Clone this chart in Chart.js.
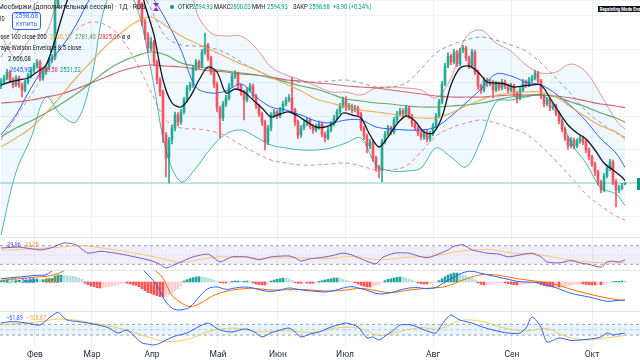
<!DOCTYPE html>
<html lang="ru"><head><meta charset="utf-8">
<script src="https://cdn.jsdelivr.net/npm/chart.js@4.4.1/dist/chart.umd.min.js"></script>
<style>
html,body{margin:0;padding:0;background:#fff}
#wrap{position:relative;width:640px;height:360px;overflow:hidden;background:#fff;font-family:Roboto,"Noto Sans",Arial,sans-serif}
#wrap canvas{position:absolute;left:0}
.t{position:absolute;white-space:nowrap;transform-origin:left center}
.sep{position:absolute;left:0;width:640px;height:1px;background:#e0e3eb}
</style></head><body>
<div id="wrap">
 <canvas id="cMain" width="640" height="237" style="top:0px"></canvas>
 <canvas id="cRsi" width="640" height="33" style="top:237px"></canvas>
 <canvas id="cMacd" width="640" height="41" style="top:270px"></canvas>
 <canvas id="cCci" width="640" height="49" style="top:311px"></canvas>
 <div class="sep" style="top:237px"></div>
 <div class="sep" style="top:270px"></div>
 <div class="sep" style="top:311px"></div>
</div>
<script>
// ---------------- DATA ----------------
const monthNames = ['Фев','Мар','Апр','Май','Июн','Июл','Авг','Сен','Окт'];
const monthIdx = [11.33, 30.33, 50.33, 72.33, 92.33, 114.67, 144, 170.33, 197];

const open = [2890,2902,2914,2932,2908,2893,2914,2893,2878,2902,
2920,2938,2950,2962,2914,2932,2944,2968,2974,3133,
3223,3253,3232,3283,3313,3298,3334,3322,3358,3343,
3313,3292,3304,3268,3283,3313,3328,3304,3292,3313,
3274,3262,3283,3253,3238,3223,3193,3133,3082,3043,
3004,3022,2962,2908,2872,2743,2674,2728,2764,2803,
2782,2812,2848,2884,2893,2944,2962,2950,2992,3013,
2974,2932,2896,2824,2794,2836,2854,2890,2920,2926,
2890,2872,2848,2878,2890,2860,2830,2806,2782,2722,
2764,2803,2812,2800,2818,2836,2848,2854,2818,2782,
2743,2764,2776,2788,2770,2758,2767,2776,2746,2734,
2758,2776,2794,2812,2830,2848,2824,2830,2818,2824,
2806,2764,2740,2710,2722,2674,2644,2638,2722,2746,
2764,2752,2788,2806,2815,2806,2824,2800,2776,2764,
2749,2737,2752,2731,2746,2770,2800,2842,2896,2950,
2980,2962,2992,2956,2998,3004,2974,2950,2992,2932,
2890,2878,2908,2896,2902,2878,2896,2884,2902,2890,
2878,2890,2869,2854,2878,2902,2893,2908,2914,2929,
2905,2860,2836,2848,2824,2830,2809,2785,2761,2734,
2710,2728,2710,2725,2734,2722,2698,2677,2656,2632,
2602,2578,2620,2644,2662,2602,2578,2584,2594.93];
const close = [2902,2914,2932,2908,2893,2914,2893,2878,2902,2920,
2938,2950,2962,2914,2932,2944,2968,2974,3133,3223,
3253,3232,3283,3313,3298,3334,3322,3358,3343,3313,
3292,3304,3268,3283,3313,3328,3304,3292,3313,3274,
3262,3283,3253,3238,3223,3193,3133,3082,3043,3004,
3022,2962,2908,2872,2743,2674,2728,2764,2803,2782,
2812,2848,2884,2893,2944,2962,2950,2992,3013,2974,
2932,2896,2824,2794,2836,2854,2890,2920,2926,2890,
2872,2848,2878,2890,2860,2830,2806,2782,2722,2764,
2803,2812,2800,2818,2836,2848,2854,2818,2782,2743,
2764,2776,2788,2770,2758,2767,2776,2746,2734,2758,
2776,2794,2812,2830,2848,2824,2830,2818,2824,2806,
2764,2740,2710,2722,2674,2644,2638,2722,2746,2764,
2752,2788,2806,2815,2806,2824,2800,2776,2764,2749,
2737,2752,2731,2746,2770,2800,2842,2896,2950,2980,
2962,2992,2956,2998,3004,2974,2950,2992,2932,2890,
2878,2908,2896,2902,2878,2896,2884,2902,2890,2878,
2890,2869,2854,2878,2902,2893,2908,2914,2929,2905,
2860,2836,2848,2824,2830,2809,2785,2761,2734,2710,
2728,2710,2725,2734,2722,2698,2677,2656,2632,2602,
2578,2620,2644,2662,2602,2578,2584,2589.78,2598.68];
const high = [2912,2922,2940,2938,2915,2921,2920,2899,2908,2928,
2946,2958,2970,2968,2940,2953,2975,2984,3160,3240,
3270,3262,3295,3325,3320,3345,3340,3370,3366,3350,
3320,3312,3310,3292,3320,3338,3334,3310,3320,3318,
3280,3290,3288,3260,3245,3230,3198,3140,3090,3050,
3035,3028,2968,2915,2878,2750,2736,2772,2812,2810,
2820,2856,2892,2902,2952,2970,2968,3000,3049,3018,
2980,2938,2902,2830,2844,2862,2898,2928,2936,2932,
2896,2878,2886,2898,2896,2866,2836,2812,2788,2772,
2810,2820,2818,2826,2844,2856,2864,2917,2824,2788,
2772,2784,2796,2794,2776,2776,2785,2782,2752,2766,
2784,2802,2820,2838,2857,2858,2838,2836,2832,2830,
2812,2770,2746,2730,2728,2680,2652,2730,2754,2772,
2770,2796,2814,2824,2822,2832,2830,2806,2782,2770,
2755,2760,2758,2754,2778,2808,2850,2904,2958,2990,
2986,3000,2998,3004,3012,3010,2980,3000,2998,2938,
2896,2916,2914,2910,2908,2904,2902,2910,2908,2896,
2898,2896,2874,2886,2910,2908,2916,2922,2938,2934,
2910,2866,2856,2854,2838,2836,2814,2790,2766,2740,
2736,2734,2732,2742,2740,2728,2704,2682,2662,2638,
2608,2628,2652,2670,2668,2610,2592,2598,2600.03];
const low = [2882,2896,2908,2900,2884,2888,2886,2857,2872,2896,
2914,2931,2944,2906,2907,2925,2938,2960,2968,3125,
3210,3220,3228,3275,3288,3290,3310,3315,3333,3305,
3282,3285,3258,3260,3278,3306,3296,3284,3286,3266,
3252,3255,3245,3228,3212,3180,3120,3070,3030,2992,
2996,2950,2896,2860,2720,2617,2599,2716,2755,2770,
2775,2806,2842,2876,2886,2936,2942,2944,2985,2966,
2924,2886,2812,2734,2786,2828,2848,2884,2912,2882,
2862,2788,2842,2872,2852,2822,2798,2772,2698,2714,
2756,2796,2792,2794,2812,2830,2842,2810,2772,2732,
2736,2758,2770,2762,2748,2752,2760,2738,2722,2728,
2752,2770,2788,2806,2824,2816,2818,2810,2812,2798,
2756,2730,2689,2702,2664,2634,2614,2602,2716,2740,
2744,2746,2780,2800,2798,2800,2792,2768,2756,2741,
2728,2730,2722,2724,2740,2764,2794,2836,2890,2944,
2954,2956,2948,2950,2990,2966,2942,2944,2924,2880,
2868,2872,2888,2890,2854,2872,2876,2878,2882,2870,
2872,2860,2839,2848,2872,2886,2888,2902,2908,2898,
2852,2828,2830,2816,2818,2800,2776,2752,2726,2700,
2704,2702,2704,2718,2714,2690,2668,2648,2622,2592,
2569,2572,2614,2636,2594,2527,2570,2578,2594.93];
const lastPrice = 2598.68;

// overlay samples (bar index -> value)
const bandIdx = [0,5,10,15,20,25,30,35,40,45,50,55,60,65,70,75,80,85,90,95,100,105,110,115,120,125,130,135,140,145,150,155,160,165,170,175,180,185,190,195,200,205,208];
const ma50 = [2707,2734,2764,2809,2860,2914,2962,3010,3049,3082,3097,3070,3040,3019,2998,2977,2956,2938,2917,2896,2875,2851,2839,2827,2818,2812,2806,2797,2794,2794,2809,2830,2848,2863,2869,2872,2872,2857,2827,2797,2770,2752,2730.15];
const ma100 = [2737,2764,2785,2809,2836,2866,2899,2935,2962,2980,2992,2983,2959,2950,2941,2935,2929,2923,2914,2902,2890,2881,2866,2851,2845,2839,2836,2830,2827,2827,2830,2833,2839,2848,2857,2860,2863,2857,2842,2827,2809,2794,2781.40];
const ma200 = [2839,2842,2848,2857,2866,2881,2899,2917,2935,2947,2953,2950,2947,2941,2935,2932,2926,2923,2917,2908,2905,2899,2896,2890,2887,2884,2878,2872,2866,2860,2857,2857,2857,2860,2863,2863,2863,2860,2854,2845,2836,2830,2825.06];
const bbBasis = [2743,2803,2884,2953,3004,3073,3157,3208,3238,3223,3163,3088,2998,2887,2869,2875,2896,2857,2827,2818,2803,2785,2779,2788,2788,2767,2761,2758,2758,2767,2800,2839,2881,2926,2920,2902,2893,2866,2830,2785,2731,2689,2645.90];
const bbUpper = [3043,2974,3034,3049,3205,3364,3406,3277,3298,3313,3388,3478,3394,3118,3049,3040,3040,3004,2947,2923,2908,2890,2872,2872,2863,2884,2887,2884,2878,2854,2914,3037,3058,3019,2995,2953,2929,2932,2956,2932,2863,2788,2760.58];
const bbLower = [2443,2632,2734,2857,2803,2782,2908,3139,3178,3133,2938,2698,2602,2644,2704,2746,2758,2737,2713,2704,2698,2698,2704,2719,2734,2653,2635,2635,2644,2704,2677,2647,2728,2842,2848,2857,2863,2824,2719,2659,2584,2566,2531.22];
const nwUpper = [2977,3046,3112,3181,3253,3307,3331,3322,3283,3211,3121,3037,3013,3010,3004,2989,2962,2938,2917,2908,2902,2902,2905,2908,2899,2887,2887,2899,2941,2989,3013,3028,3037,3028,3013,2995,2959,2914,2866,2815,2779,2749,2737];
const nwLower = [2728,2797,2863,2932,3004,3058,3082,3073,3034,2962,2872,2788,2764,2761,2755,2740,2713,2689,2668,2659,2653,2653,2656,2659,2650,2638,2638,2650,2692,2740,2764,2779,2788,2779,2764,2746,2710,2665,2617,2566,2530,2500,2488];

const emaIdx = [0,3,6,9,12,15,18,21,24,27,30,33,36,39,42,45,48,51,54,57,60,63,66,69,72,75,78,81,84,87,90,93,96,99,102,105,108,111,114,117,120,123,126,129,132,135,138,141,144,147,150,153,156,159,162,165,168,171,174,177,180,183,186,189,192,195,198,201,204,207,208];
const ema9 = [2893,2902,2908,2914,2932,2953,3028,3118,3193,3253,3283,3298,3313,3298,3283,3238,3133,3043,2908,2839,2827,2857,2908,2947,2932,2869,2881,2872,2848,2824,2797,2806,2812,2800,2782,2767,2767,2779,2809,2803,2794,2743,2707,2737,2776,2800,2785,2752,2749,2797,2893,2944,2950,2932,2902,2899,2896,2887,2890,2893,2893,2854,2812,2773,2749,2731,2698,2659,2638,2617,2606.08];

// RSI
const rsiIdx = [0,6,13,17,21,25,29,33,36,40,46,50,53,55,58,60,64,69,71,73,77,82,86,90,96,98,100,103,106,110,114,117,121,125,127,131,136,139,142,145,149,151,154,157,162,166,169,173,177,180,182,186,190,193,196,200,202,204,206,208];
const rsiVal = [65,67,61,66,76,72,54,58,56,52,44,38,30,22,30,35,46,52,44,35,46,46,40,46,48,44,37,42,44,48,54,50,39,31,44,54,54,48,44,50,61,69,72,61,54,52,46,50,54,46,35,33,38,33,30,24,35,37,35,39.86];
const rsiMaIdx = [0,9,18,27,36,45,54,60,66,72,81,90,99,108,117,126,135,144,153,162,171,180,189,198,208];
const rsiMaVal = [60,63,66,70,63,54,42,34,40,46,44,43,44,42,47,40,45,48,58,62,54,50,40,34,33.25];
const rsiLevels = [70,50,30];

// MACD
const macdHist = [4,5,6,5,4,4,5,4,5,6,
7,8,9,7,7,8,10,11,18,21,
21,20,19,18,17,15,12,8,-4,-8,
-12,-14,-17,-18,-17,-15,-14,-12,-10,-8,
-5,-3,-4,-6,-9,-10,-14,-20,-26,-32,
-34,-38,-41,-44,-45,-44,-38,-32,-26,-20,
-12,3,7,10,13,15,16,15,14,12,
9,6,2,-2,-3,-3,-2,2,3,3,
2,2,3,2,-3,-6,-8,-9,-9,-6,
3,6,8,10,12,11,9,5,-2,-4,
-4,-3,-3,-4,-4,-2,2,4,6,8,
10,12,12,11,8,5,3,1,-2,-6,
-10,-13,-15,-15,-13,-10,-7,-2,4,8,
10,12,14,15,14,12,9,6,2,-3,
-5,-6,-6,-5,-3,-1,4,10,16,21,
24,27,27,25,22,19,15,12,6,-3,
-7,-9,-8,-7,-6,-4,-3,-2,-3,-5,
-7,-8,-9,-8,-7,-6,-5,-4,-3,-4,
-8,-11,-13,-14,-15,-14,-15,-14,-13,-12,
-9,-8,-7,-6,-6,-7,-8,-9,-9,-8,
-8,-6,-4,-1,1,2,2,3,2.72];
const macdIdx = [0,6,12,15,18,21,24,27,30,33,36,39,42,45,47,48,50,52,54,55,57,59,61,63,66,69,72,75,78,81,84,87,90,93,96,99,102,105,108,111,114,117,120,123,125,127,130,133,136,139,142,145,148,151,154,157,160,163,166,169,172,175,178,181,184,187,190,193,196,199,202,205,208];
const macdVal = [10,15,20,22,40,60,80,95,100,98,92,85,70,55,40,30,12,-10,-45,-60,-78,-84,-82,-75,-45,-20,-15,-22,-18,-15,-18,-25,-28,-24,-18,-22,-26,-28,-30,-26,-18,-14,-20,-28,-34,-36,-32,-24,-18,-17,-20,-16,0,15,28,32,26,20,14,8,2,0,-1,-6,-14,-24,-34,-40,-45,-52,-58,-56,-53.80];
const sigIdx = [0,12,18,24,30,36,42,48,52,54,57,60,63,66,69,72,75,78,84,90,96,102,108,114,120,125,130,136,142,148,154,160,166,172,178,184,190,196,202,208];
const sigVal = [5,15,22,50,90,94,82,58,30,12,-40,-62,-74,-66,-50,-36,-28,-23,-19,-24,-23,-23,-27,-25,-19,-26,-32,-24,-19,-14,6,22,20,10,3,-5,-22,-36,-48,-56.52];

// CCI
const cciIdx = [0,3,6,10,13,16,19,20,22,26,29,33,36,39,42,45,47,49,51,53,55,58,62,66,69,71,73,77,80,82,85,87,90,92,96,98,100,103,106,110,113,115,119,122,124,126,129,131,133,137,140,143,145,147,149,150,153,157,160,164,169,173,175,177,180,182,186,190,193,197,200,202,204,206,208];
const cciVal = [125,150,144,110,88,219,331,275,181,150,125,80,32,-62,-6,-150,-249,-270,-286,-250,-193,-120,-62,60,125,60,-6,-43,0,13,-60,-136,-60,-24,32,-40,-136,-80,-43,50,100,125,50,-155,-136,-193,-80,-6,88,88,20,-43,-62,100,237,275,181,125,60,-6,-62,-62,32,237,50,-230,-155,-200,-193,-170,-136,-62,-99,-80,-61.89];
const cciMaIdx = [0,10,20,30,40,48,55,62,70,78,86,95,104,113,120,126,133,140,146,153,160,167,175,182,188,195,202,208];
const cciMaVal = [100,130,200,130,20,-120,-220,-180,-20,30,-40,-20,-50,40,20,-110,-30,40,10,170,160,40,-20,20,-120,-190,-150,-108.87];
const cciLevels = [100,0,-100];

// ---------------- CHARTS ----------------
const X_MIN = -1/3, X_MAX = 213;
const UP = '#22ab94', DOWN = '#f7525f';
const pts = (idx, vals) => idx.map((x,k) => ({x:x, y:vals[k]}));
const flat = v => pts([X_MIN, X_MAX], [v, v]);
function L(label, data, color, width, extra){
  return Object.assign({type:'line', label:label, data:data, borderColor:color, borderWidth:width,
    pointRadius:0, tension:0.35, fill:false, order:1}, extra || {});
}
function xScale(show){
  const s = {type:'linear', min:X_MIN, max:X_MAX, offset:false, display:true,
    grid:{color:'#eef0f4', drawTicks:false, offset:false},
    border:{display:false},
    afterBuildTicks: a => { a.ticks = monthIdx.map(v => ({value:v})); },
    ticks:{display:show, autoSkip:false, maxRotation:0, padding:2, color:'#2a2e39',
      font:{size:8.5, family:'Roboto'}, callback:(v,i) => monthNames[i]}};
  if (show) s.afterFit = sc => { sc.height = 12; };
  return s;
}
function yScale(min, max, grid){
  return {type:'linear', min:min, max:max, display:true,
    grid:{display:!!grid, color:'#f1f3f7', drawTicks:false},
    border:{display:false}, ticks:{display:false, stepSize:100}};
}
const baseOpts = (ymin, ymax, showX, grid) => ({
  responsive:false, animation:false, devicePixelRatio:1, events:[],
  layout:{padding:0},
  plugins:{legend:{display:false}, tooltip:{enabled:false}, filler:{drawTime:'beforeDatasetsDraw', propagate:false}},
  scales:{x:xScale(showX), y:yScale(ymin, ymax, grid)}
});

const candleColor = c => close[c.dataIndex] >= open[c.dataIndex] ? UP : DOWN;
const bodies = open.map((o,i) => ({x:i, y:[o, close[i]]}));
const wicks = low.map((l,i) => ({x:i, y:[l, high[i]]}));

new Chart(document.getElementById('cMain'), {
  type:'bar',
  data:{datasets:[
    L('EMA 9', pts(emaIdx, ema9), '#131722', 1.3, {order:0, tension:0.3}),
    L('MA 50', pts(bandIdx, ma50), 'rgba(240,160,70,0.85)', 1.2),
    L('MA 100', pts(bandIdx, ma100), 'rgba(76,155,80,0.85)', 1.2),
    L('MA 200', pts(bandIdx, ma200), 'rgba(200,65,80,0.8)', 1.2),
    L('BB basis', pts(bandIdx, bbBasis), '#2962ff', 1, {order:2}),
    L('BB upper', pts(bandIdx, bbUpper), 'rgba(220,80,90,0.6)', 1, {order:3}),
    L('BB lower', pts(bandIdx, bbLower), 'rgba(8,153,129,0.7)', 1, {order:3, fill:5, backgroundColor:'rgba(33,150,243,0.07)'}),
    L('NW upper', pts(bandIdx, nwUpper), 'rgba(120,123,134,0.75)', 1, {order:3, borderDash:[4,3]}),
    L('NW lower', pts(bandIdx, nwLower), 'rgba(225,110,110,0.8)', 1, {order:3, borderDash:[4,3]}),
    L('Last', flat(lastPrice), 'rgba(8,153,129,0.45)', 1, {order:4, tension:0}),
    {type:'bar', label:'Wicks', data:wicks, backgroundColor:candleColor, barThickness:1, grouped:false, order:6},
    {type:'bar', label:'Bodies', data:bodies, backgroundColor:candleColor, barThickness:2, grouped:false, minBarLength:1, order:5}
  ]},
  options: baseOpts(2437, 3148, false, true)
});

new Chart(document.getElementById('cRsi'), {
  type:'line',
  data:{datasets:[
    L('RSI', pts(rsiIdx, rsiVal), '#7e57c2', 1, {order:0, tension:0.2}),
    L('RSI MA', pts(rsiMaIdx, rsiMaVal), 'rgba(250,190,80,0.75)', 1, {order:1}),
    L('70', flat(rsiLevels[0]), 'rgba(120,123,134,0.7)', 1, {order:2, tension:0, borderDash:[3,3], fill:4, backgroundColor:'rgba(126,87,194,0.1)'}),
    L('50', flat(rsiLevels[1]), 'rgba(120,123,134,0.25)', 1, {order:2, tension:0, borderDash:[1,2]}),
    L('30', flat(rsiLevels[2]), 'rgba(120,123,134,0.7)', 1, {order:2, tension:0, borderDash:[3,3]})
  ]},
  options: baseOpts(17.8, 88.7, false, false)
});

const histColor = c => { const i = c.dataIndex, v = macdHist[i], p = i > 0 ? macdHist[i-1] : 0;
  return v >= 0 ? (v >= p ? '#26a69a' : '#b2dfdb') : (v <= p ? '#ff5252' : '#ffcdd2'); };
new Chart(document.getElementById('cMacd'), {
  type:'bar',
  data:{datasets:[
    L('MACD', pts(macdIdx, macdVal), '#2962ff', 1, {order:0}),
    L('Signal', pts(sigIdx, sigVal), '#ff6d00', 1, {order:1}),
    {type:'bar', label:'Hist', data:macdHist.map((v,i) => ({x:i, y:v})), backgroundColor:histColor, barThickness:2, grouped:false, order:3}
  ]},
  options: baseOpts(-87, 36, false, false)
});

new Chart(document.getElementById('cCci'), {
  type:'line',
  data:{datasets:[
    L('CCI', pts(cciIdx, cciVal), '#2962ff', 1, {order:0, tension:0.25}),
    L('CCI MA', pts(cciMaIdx, cciMaVal), 'rgba(245,190,60,0.8)', 1, {order:1}),
    L('+100', flat(cciLevels[0]), 'rgba(120,123,134,0.7)', 1, {order:2, tension:0, borderDash:[3,3], fill:4, backgroundColor:'rgba(33,150,243,0.1)'}),
    L('0', flat(cciLevels[1]), 'rgba(120,123,134,0.35)', 1, {order:2, tension:0, borderDash:[3,3]}),
    L('-100', flat(cciLevels[2]), 'rgba(120,123,134,0.7)', 1, {order:2, tension:0, borderDash:[3,3]})
  ]},
  options: baseOpts(-342, 350, true, false)
});

// ---------------- LEGENDS / UI TEXT ----------------
const wrap = document.getElementById('wrap');
function T(txt, x, yc, color, size, sx, extra){
  const d = document.createElement('div');
  d.className = 't'; d.textContent = txt;
  d.style.left = x + 'px'; d.style.top = (yc - size*0.65) + 'px';
  d.style.fontSize = size + 'px'; d.style.lineHeight = (size*1.3) + 'px';
  d.style.color = color;
  d.style.transform = 'scaleX(' + (sx || 0.8) + ')';
  if (extra) Object.assign(d.style, extra);
  wrap.appendChild(d); return d;
}
const INK = '#131722', GRN = '#089981';
T('Мосбиржи (дополнительная сессия) · 1Д · RUS', -2, 7, INK, 8, 0.84);
const hg = document.createElement('div');
hg.innerHTML = '<svg width="6" height="8" viewBox="0 0 6 8"><path d="M0 0H6L3 4L6 8H0L3 4Z" fill="#9c27b0"/></svg>';
Object.assign(hg.style, {position:'absolute', left:'153px', top:'3px', lineHeight:'0'});
wrap.appendChild(hg);
const dot = document.createElement('div');
Object.assign(dot.style, {position:'absolute', left:'170px', top:'5px', width:'4px', height:'4px', borderRadius:'2px', background:GRN});
wrap.appendChild(dot);
T('ОТКР', 178, 7, INK, 7.5, 0.78); T('2594,93', 192, 7, GRN, 7.5, 0.78);
T('МАКС', 214, 7, INK, 7.5, 0.78); T('2600,03', 230, 7, GRN, 7.5, 0.78);
T('МИН', 252, 7, INK, 7.5, 0.78); T('2594,93', 267, 7, GRN, 7.5, 0.78);
T('ЗАКР', 293, 7, INK, 7.5, 0.78); T('2598,68', 309, 7, GRN, 7.5, 0.78);
T('+8,90 (+0,34%)', 333, 7, GRN, 7.5, 0.78);
const btn = document.createElement('div');
Object.assign(btn.style, {position:'absolute', left:'12px', top:'12px', width:'27px', height:'16px', border:'1px solid #2962ff',
  borderRadius:'3px', color:'#2962ff', textAlign:'center', fontSize:'6.5px', lineHeight:'7.5px', background:'#fff'});
btn.innerHTML = '2598,68<br><span style="font-size:5.5px">КУПИТЬ</span>';
wrap.appendChild(btn);
T('0,00', -6, 20, INK, 7);
T('lose 100 close 200', -1, 37, INK, 7.5, 0.76);
T('2730,15', 50, 37, '#f0a046', 7.5, 0.78); T('2781,40', 75, 37, '#4c9b50', 7.5, 0.78); T('2825,06', 99, 37, '#d2404e', 7.5, 0.78);
T('ø ø', 122, 37, INK, 7.5);
T('raya-Watson Envelope 8.5 close', -1, 48, INK, 7.5, 0.78);
T('2 606,08', 8, 59, INK, 7.5, 0.8);
T('2645,90', 10, 70, '#2962ff', 7.5, 0.78); T('2760,58', 37, 70, '#f23645', 7.5, 0.78); T('2531,22', 60, 70, GRN, 7.5, 0.78);
T('Repainting Mode Enabled', 598, 9, '#fff', 5, 0.85, {background:'#131722', fontWeight:'bold', padding:'0 2px'});
T('2598,68', 637, 183, '#fff', 7, 1, {background:GRN, padding:'1px 3px'});
T('39,86', 7, 246, '#7e57c2', 7); T('33,25', 25, 246, '#f0a046', 7);
T('2,72', 6, 282, '#26a69a', 7); T('−53,80', 18, 282, '#2962ff', 7); T('−56,52', 42, 282, '#ff6d00', 7);
T('−61,89', 6, 319, '#2962ff', 7); T('−108,87', 26, 319, '#f0a046', 7);
</script>
</body></html>
